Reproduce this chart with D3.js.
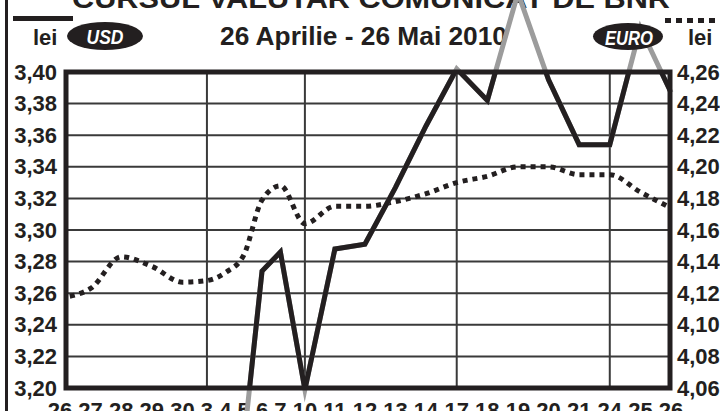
<!DOCTYPE html>
<html><head><meta charset="utf-8">
<script src="https://cdn.jsdelivr.net/npm/d3@7"></script>
<style>
body{margin:0;background:#fff}
svg{display:block}
text{font-family:"Liberation Sans",Arial,sans-serif;font-weight:bold;fill:#231f20}
</style>
</head><body>
<svg id="c" width="720" height="411"></svg>
<script>
// ---- data ----
const dates = ["26","27","28","29","30","3","4","5","6","7","10","11","12","13","14","17","18","19","20","21","24","25","26"];
const usd   = [3.080,3.095,3.120,3.110,3.100,3.125,3.140,3.165,3.274,3.286,3.199,3.288,3.291,3.327,3.366,3.402,3.382,3.450,3.395,3.354,3.354,3.428,3.387];
const euro  = [4.117,4.123,4.143,4.137,4.127,4.128,4.133,4.144,4.179,4.188,4.164,4.175,4.175,4.178,4.183,4.190,4.194,4.200,4.200,4.195,4.195,4.184,4.174];
const usdTicks  = [3.20,3.22,3.24,3.26,3.28,3.30,3.32,3.34,3.36,3.38,3.40];
const euroTicks = [4.06,4.08,4.10,4.12,4.14,4.16,4.18,4.20,4.22,4.24,4.26];
const mondayIdx = [5,10,15,20];
const title = "CURSUL VALUTAR COMUNICAT DE BNR";
const subtitle = "26 Aprilie - 26 Mai 2010";

const INK = "#231f20", GRID = "#3a3a3a", GRAY = "#9c9c9c";
const W = 720, H = 411;
const m = {left:66, right:670, top:72, bottom:388};
const svg = d3.select("#c");

const y  = d3.scaleLinear().domain([3.20,3.40]).range([m.bottom,m.top]);
const yR = d3.scaleLinear().domain([4.06,4.26]).range([m.bottom,m.top]);
const fmt = v => d3.format(".2f")(v).replace(".", ",");

// ---- x positions from the label text layout ----
const meas = svg.append("text").style("font-size","22px");
const tw = s => { meas.text(s); return meas.node().getComputedTextLength(); };
const spaceW = tw("0 0") - tw("00");
let cur = 0; const starts = [], centers = [];
dates.forEach(d => { const w = tw(d); starts.push(cur); centers.push(cur + w/2); cur += w + spaceW; });
meas.remove();
const xs = d3.scaleLinear().domain([centers[0], centers[centers.length-1]]).range([60, 671]);
const x = i => xs(centers[i]);

// clip
svg.append("defs").append("clipPath").attr("id","plot")
  .append("rect").attr("x",m.left).attr("y",m.top).attr("width",m.right-m.left).attr("height",m.bottom-m.top);

// outer left rule
svg.append("line").attr("x1",6.5).attr("x2",6.5).attr("y1",0).attr("y2",H).attr("stroke",INK).attr("stroke-width",3);

// title (cut at top)
svg.append("text").attr("x",72).attr("y",8).attr("textLength",598).attr("lengthAdjust","spacingAndGlyphs")
  .style("font-size","28px").text(title);
svg.append("text").attr("x",220).attr("y",45).attr("textLength",287).attr("lengthAdjust","spacingAndGlyphs")
  .style("font-size","26px").text(subtitle);

// gridlines
const g = svg.append("g");
g.selectAll("line.h").data(usdTicks.slice(1,-1)).join("line")
  .attr("x1",m.left).attr("x2",m.right).attr("y1",d=>y(d)).attr("y2",d=>y(d))
  .attr("stroke",GRID).attr("stroke-width",2);
g.selectAll("line.v").data(mondayIdx).join("line")
  .attr("x1",d=>x(d)).attr("x2",d=>x(d)).attr("y1",m.top).attr("y2",m.bottom)
  .attr("stroke",GRID).attr("stroke-width",2);

// axes
const axL = svg.append("g").attr("transform",`translate(${m.left},0)`)
  .call(d3.axisLeft(y).tickValues(usdTicks).tickSize(0).tickPadding(9).tickFormat(fmt));
const axR = svg.append("g").attr("transform",`translate(${m.right},0)`)
  .call(d3.axisRight(yR).tickValues(euroTicks).tickSize(0).tickPadding(7).tickFormat(fmt));
[axL,axR].forEach(a => { a.select(".domain").remove();
  a.selectAll("text").attr("fill",INK).style("font-size","22px").style("font-family","Liberation Sans, Arial, sans-serif").style("font-weight","bold"); });

// x labels
svg.append("g").selectAll("text").data(dates).join("text")
  .attr("x",(d,i)=>xs(starts[i]))
  .attr("y",418).style("font-size","22px")
  .text((d,i)=> i===dates.length-1 ? d + "," : d);

// lines
const lineU = d3.line().x((d,i)=>x(i)).y(d=>y(d));
const lineE = d3.line().x((d,i)=>x(i)).y(d=>yR(d)).curve(d3.curveMonotoneX);

svg.append("path").datum(euro).attr("d",lineE).attr("clip-path","url(#plot)")
  .attr("fill","none").attr("stroke",INK).attr("stroke-width",5).attr("stroke-dasharray","5,5");

svg.append("path").datum(usd).attr("d",lineU)
  .attr("fill","none").attr("stroke",GRAY).attr("stroke-width",5).attr("stroke-linejoin","miter").attr("stroke-miterlimit",10);
svg.append("path").datum(usd).attr("d",lineU).attr("clip-path","url(#plot)")
  .attr("fill","none").attr("stroke",INK).attr("stroke-width",5).attr("stroke-linejoin","miter").attr("stroke-miterlimit",10);

// frame
svg.append("rect").attr("x",m.left).attr("y",m.top).attr("width",m.right-m.left).attr("height",m.bottom-m.top)
  .attr("fill","none").attr("stroke",INK).attr("stroke-width",5);

// legend
svg.append("line").attr("x1",13).attr("x2",73).attr("y1",18.5).attr("y2",18.5).attr("stroke",INK).attr("stroke-width",5);
svg.append("line").attr("x1",665).attr("x2",722).attr("y1",20.5).attr("y2",20.5).attr("stroke",INK).attr("stroke-width",5).attr("stroke-dasharray","6,5");
svg.append("text").attr("x",33).attr("y",45).style("font-size","22px").text("lei");
svg.append("text").attr("x",688).attr("y",45).style("font-size","22px").text("lei");
svg.append("ellipse").attr("cx",105).attr("cy",36).attr("rx",38).attr("ry",14).attr("fill",INK);
svg.append("text").attr("x",105).attr("y",44).attr("text-anchor","middle").attr("textLength",37).attr("lengthAdjust","spacingAndGlyphs")
  .style("font-size","21px").style("font-style","italic").style("fill","#fff").text("USD");
svg.append("ellipse").attr("cx",628).attr("cy",36.5).attr("rx",35).attr("ry",13.5).attr("fill",INK);
svg.append("text").attr("x",629).attr("y",44.5).attr("text-anchor","middle").attr("textLength",48).attr("lengthAdjust","spacingAndGlyphs")
  .style("font-size","21px").style("font-style","italic").style("fill","#fff").text("EURO");
</script>
</body></html>
